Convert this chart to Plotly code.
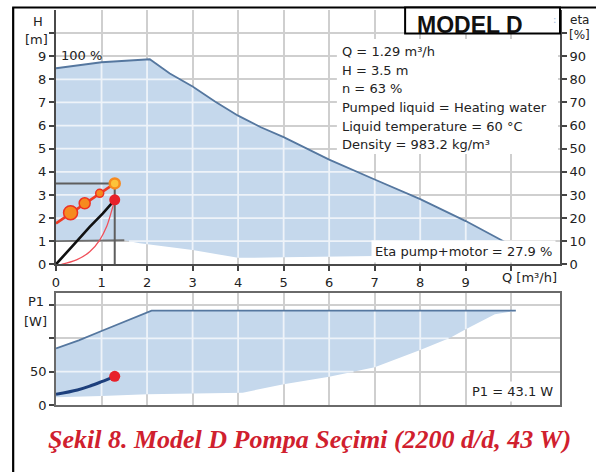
import numpy as np
import plotly.graph_objects as go

# ---- flow axis (m³/h) ----
q_ticks = [0, 1, 2, 3, 4, 5, 6, 7, 8, 9, 10]
q_labels = ["0", "1", "2", "3", "4", "5", "6", "7", "8", "9", ""]
q_range = [0, 11.07]

# ---- head axis (m) and efficiency axis (%) ----
h_ticks = [0, 1, 2, 3, 4, 5, 6, 7, 8, 9, 10]
h_labels = ["0", "1", "2", "3", "4", "5", "6", "7", "8", "9", ""]
h_range = [0, 11]
eta_ticks = [0, 10, 20, 30, 40, 50, 60, 70, 80, 90, 100]
eta_labels = ["0", "10", "20", "30", "40", "50", "60", "70", "80", "90", ""]
eta_range = [0, 110]

# ---- power axis (W) ----
p_ticks = [0, 50, 100, 150]
p_labels = ["0", "50", "", ""]
p_range = [0, 168.5]

# ---- head: maximum (100 %) curve and minimum curve of the working area ----
q_max = [0, 1, 2.06, 2.5, 3, 3.5, 4, 4.5, 5, 6, 7, 8, 9, 9.89]
h_max = [8.48, 8.74, 8.87, 8.25, 7.69, 7.03, 6.43, 5.93, 5.5, 4.53, 3.67, 2.82, 1.87, 0.93]
q_min = [0, 1.5, 1.84, 3, 4, 5, 6, 7, 8, 9, 9.89]
h_min = [1.0, 1.04, 0.91, 0.62, 0.28, 0.30, 0.32, 0.36, 0.5, 0.7, 0.93]

# ---- control curve with its speed steps ----
q_ctrl = [0, 1.29]
h_ctrl = [1.77, 3.5]
q_steps = [0.32, 0.63, 0.96]
h_steps = [2.23, 2.64, 3.07]

# ---- duty point ----
q_duty = 1.29
h_duty = 3.5
eta_duty = 27.9
p1_duty = 43.1

# ---- system curve (head) ----
q_sys = [0.12, 0.45, 0.74, 0.96, 1.11, 1.22, 1.29]
h_sys = [0, 0.19, 0.54, 1.05, 1.62, 2.3, 2.79]

# ---- efficiency pump+motor (%) ----
q_eta = [0, 0.2, 0.42, 0.74, 1.03, 1.29]
eta = [0, 4.6, 9.2, 16.2, 22.0, 27.9]

# ---- power input P1 (W) ----
q_p1_max = [0, 0.5, 1, 1.5, 2.1, 10.1]
p1_max = [85, 97, 111, 125, 141.5, 141.5]
q_p1_min = [0, 1, 2, 3, 4.1, 5, 6, 7, 8, 8.66, 9, 9.64, 10.1]
p1_min = [11.5, 13.5, 16, 17.5, 18.5, 31, 42.5, 56.5, 82.5, 101, 113.5, 136, 141.5]
q_p1 = [0, 0.47, 0.75, 1.0, 1.29]
p1 = [16, 22.5, 28.5, 35, 43.1]

info_lines = [
    "Q = 1.29 m³/h",
    "H = 3.5 m",
    "n = 63 %",
    "Pumped liquid = Heating water",
    "Liquid temperature = 60 °C",
    "Density = 983.2 kg/m³",
]

# ---- page geometry helpers (pixels -> paper fractions) ----
W, H = 596, 472
ML, MR, MT, MB = 56, 34, 10, 67
PW, PH = W - ML - MR, H - MT - MB


def fx(xp):
    return (xp - ML) / PW


def fy(yp):
    return (H - MB - yp) / PH


FILL = "#c5d8ec"
EDGE = "#55779f"
TXT = "#222222"
SANS = "DejaVu Sans"
GRID = "#cfcfcf"
GRID_ON_FILL = "#eef3f9"
GRID_W = 1.8


def grid_inside(xticks, yticks, qa, ya, qb, yb):
    """Grid segments lying inside the band between the upper (qa, ya) and
    lower (qb, yb) boundary curves; drawn light over the band's fill."""
    q_lo, q_hi = max(qa[0], qb[0]), min(qa[-1], qb[-1])
    gx, gy = [], []
    for v in xticks:
        if q_lo < v < q_hi:
            gx += [v, v, None]
            gy += [np.interp(v, qb, yb), np.interp(v, qa, ya), None]
    qs = np.linspace(q_lo, q_hi, 4001)
    top = np.interp(qs, qa, ya)
    bot = np.interp(qs, qb, yb)
    for v in yticks:
        inside = (bot < v) & (v < top)
        if not inside.any():
            continue
        idx = np.flatnonzero(np.diff(np.r_[0, inside.astype(int), 0]))
        for s, e in zip(idx[::2], idx[1::2]):
            gx += [qs[s], qs[e - 1], None]
            gy += [v, v, None]
    return gx, gy


fig = go.Figure()

# ================= head / efficiency chart =================
fig.add_trace(go.Scatter(
    x=q_max + q_min[::-1], y=h_max + h_min[::-1], xaxis="x", yaxis="y",
    mode="lines", fill="toself", fillcolor=FILL, line=dict(width=0),
    hoverinfo="skip", showlegend=False))
gx, gy = grid_inside(q_ticks, h_ticks, q_max, h_max, q_min, h_min)
fig.add_trace(go.Scatter(
    x=gx, y=gy, xaxis="x", yaxis="y", mode="lines",
    line=dict(color=GRID_ON_FILL, width=GRID_W), hoverinfo="skip",
    showlegend=False))
fig.add_trace(go.Scatter(
    x=q_max, y=h_max, xaxis="x", yaxis="y", mode="lines",
    line=dict(color=EDGE, width=1.8), showlegend=False))
# minimum-curve edge at the low-flow end
fig.add_trace(go.Scatter(
    x=q_min[:2], y=h_min[:2], xaxis="x", yaxis="y", mode="lines",
    line=dict(color="#6f6f6f", width=1.8), showlegend=False))
# duty point guides
fig.add_trace(go.Scatter(
    x=[0, q_duty, q_duty], y=[h_duty, h_duty, 0], xaxis="x", yaxis="y",
    mode="lines", line=dict(color="#5e5e5e", width=2), showlegend=False))
# system curve
fig.add_trace(go.Scatter(
    x=q_sys, y=h_sys, xaxis="x", yaxis="y", mode="lines", line_shape="spline",
    line=dict(color="#f0505a", width=1.3), showlegend=False))
# control curve and speed steps
fig.add_trace(go.Scatter(
    x=q_ctrl, y=h_ctrl, xaxis="x", yaxis="y", mode="lines",
    line=dict(color="#ee3a24", width=2.6), showlegend=False))
fig.add_trace(go.Scatter(
    x=q_steps, y=h_steps, xaxis="x", yaxis="y", mode="markers",
    marker=dict(size=[14, 11, 8], color="#f68a1f", opacity=1,
                line=dict(color="#ee3124", width=1.5)), showlegend=False))
fig.add_trace(go.Scatter(
    x=[q_duty], y=[h_duty], xaxis="x", yaxis="y", mode="markers",
    marker=dict(size=10, color="#fcc33a", opacity=1,
                line=dict(color="#f68a1f", width=2.5)),
    showlegend=False))
# efficiency on the right axis
fig.add_trace(go.Scatter(
    x=q_eta, y=eta, xaxis="x", yaxis="y2", mode="lines",
    line=dict(color="#111111", width=2.6), showlegend=False))
fig.add_trace(go.Scatter(
    x=[q_duty], y=[eta_duty], xaxis="x", yaxis="y2", mode="markers",
    marker=dict(size=11, color="#e8202a", opacity=1), showlegend=False))

# ================= power chart =================
fig.add_trace(go.Scatter(
    x=q_p1_max + q_p1_min[::-1], y=p1_max + p1_min[::-1], xaxis="x2", yaxis="y3",
    mode="lines", fill="toself", fillcolor=FILL, line=dict(width=0),
    hoverinfo="skip", showlegend=False))
gx, gy = grid_inside(q_ticks, p_ticks, q_p1_max, p1_max, q_p1_min, p1_min)
fig.add_trace(go.Scatter(
    x=gx, y=gy, xaxis="x2", yaxis="y3", mode="lines",
    line=dict(color=GRID_ON_FILL, width=GRID_W), hoverinfo="skip",
    showlegend=False))
fig.add_trace(go.Scatter(
    x=q_p1_max, y=p1_max, xaxis="x2", yaxis="y3", mode="lines",
    line=dict(color=EDGE, width=1.8), showlegend=False))
fig.add_trace(go.Scatter(
    x=q_p1, y=p1, xaxis="x2", yaxis="y3", mode="lines", line_shape="spline",
    line=dict(color="#1d3f7c", width=3), showlegend=False))
fig.add_trace(go.Scatter(
    x=[q_duty], y=[p1_duty], xaxis="x2", yaxis="y3", mode="markers",
    marker=dict(size=11, color="#e8202a", opacity=1), showlegend=False))

tickfont = dict(family=SANS, size=13, color=TXT)
axis_common = dict(zeroline=False, ticks="outside", ticklen=5,
                   tickwidth=1.5, tickcolor="#444", tickfont=tickfont)
grid = dict(showgrid=True, gridcolor=GRID, gridwidth=GRID_W)

fig.update_layout(
    width=W, height=H,
    margin=dict(l=ML, r=MR, t=MT, b=MB),
    paper_bgcolor="white", plot_bgcolor="white",
    showlegend=False,
    xaxis=dict(domain=[0, 1], anchor="y", range=q_range, tickvals=q_ticks,
               ticktext=q_labels, showline=True, linecolor="#4a4a4a",
               linewidth=2, **grid, **axis_common),
    yaxis=dict(domain=[fy(264.3), 1], anchor="x", range=h_range,
               tickvals=h_ticks, ticktext=h_labels, showline=True,
               linecolor="#4a4a4a", linewidth=2, **grid, **axis_common),
    yaxis2=dict(overlaying="y", side="right", anchor="x", range=eta_range,
                tickvals=eta_ticks, ticktext=eta_labels, showline=True,
                showgrid=False, linecolor="#4a4a4a", linewidth=2, **axis_common),
    xaxis2=dict(domain=[0, 1], anchor="y3", range=q_range, showticklabels=False,
                tickvals=q_ticks, zeroline=False, showline=True, mirror=True,
                linecolor="#6a6a6a", linewidth=1.8, ticks="", **grid),
    yaxis3=dict(domain=[0, fy(292.7)], anchor="x2", range=p_range,
                tickvals=p_ticks, ticktext=p_labels, showline=True, mirror=True,
                linecolor="#6a6a6a", linewidth=1.8, **grid, **axis_common),
)

shapes = [
    # outer frame
    dict(type="line", xref="paper", yref="paper", x0=fx(12), x1=fx(610),
         y0=fy(7.5), y1=fy(7.5), line=dict(color="black", width=2.2)),
    dict(type="line", xref="paper", yref="paper", x0=fx(13), x1=fx(13),
         y0=fy(7.5), y1=fy(490), line=dict(color="black", width=2.2)),
    # title box
    dict(type="rect", xref="paper", yref="paper", x0=fx(406.5), x1=fx(562),
         y0=fy(33.5), y1=fy(7.5), fillcolor="white",
         line=dict(color="black", width=2), layer="above"),
    # info panel background
    dict(type="rect", xref="paper", yref="paper", x0=fx(338), x1=fx(560),
         y0=fy(154), y1=fy(39), fillcolor="white", line=dict(width=0),
         layer="above"),
]
fig.update_layout(shapes=shapes)

ann = []


def text(s, xp, yp, xanchor="center", size=13, **kw):
    d = dict(text=s, xref="paper", yref="paper", x=fx(xp), y=fy(yp),
             xanchor=xanchor, yanchor="middle", showarrow=False,
             font=dict(family=SANS, size=size, color=TXT))
    d.update(kw)
    ann.append(d)


text("MODEL D", 472, 25.5,
     font=dict(family="Liberation Sans", size=23, color="#111111", weight="bold"))
text(":", 556, 19, font=dict(family=SANS, size=10, color="#9bbbe0"))
text("100 %", 59, 55, xanchor="left")
for i, line in enumerate(info_lines):
    text(line, 341.5, 51.7 + i * 18.6, xanchor="left")
text("Eta pump+motor = 27.9 %", 558, 251.5, xanchor="right",
     bgcolor="white", borderpad=3)
text("P1 = 43.1 W", 558, 391.5, xanchor="right", bgcolor="white", borderpad=2)
text("Q [m³/h]", 502, 277.5, xanchor="left")
text("H", 37.5, 21)
text("[m]", 36, 40)
text("eta", 582, 19.5, font=dict(family=SANS, size=12, color=TXT))
text("[%]", 582, 35, font=dict(family=SANS, size=12, color=TXT))
text("P1", 36, 301.5)
text("[W]", 35, 321.5)
ann.append(dict(
    text="<b><i>Şekil 8. Model D Pompa Seçimi (2200 d/d, 43 W)</i></b>",
    xref="paper", yref="paper", x=fx(311), y=fy(439), xanchor="center",
    yanchor="middle", showarrow=False,
    font=dict(family="Liberation Serif", size=26, color="#d0202e")))
fig.update_layout(annotations=ann)

fig.write_html("out.html")
